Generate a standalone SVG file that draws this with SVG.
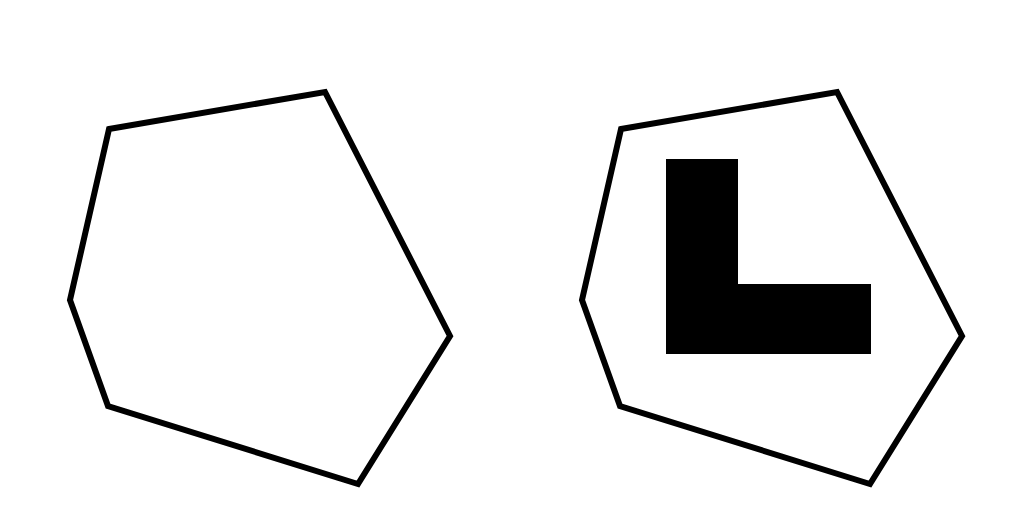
<svg xmlns="http://www.w3.org/2000/svg" width="1024" height="512" viewBox="0 0 1024 512">
<style>
.poly{fill:none;stroke:#000;stroke-width:6;stroke-linejoin:miter}
</style>
<defs>
<polygon id="hex" class="poly" points="109,129 325,92 450,336 358,484 108,406 70,300"/>
</defs>
<rect width="1024" height="512" fill="#fff"/>
<g id="left-shape"><use href="#hex"/></g>
<g id="right-shape">
<use href="#hex" transform="translate(512,0)"/>
<polygon id="L" points="666,159 738,159 738,284 871,284 871,354 666,354" fill="#000"/>
</g>
</svg>
